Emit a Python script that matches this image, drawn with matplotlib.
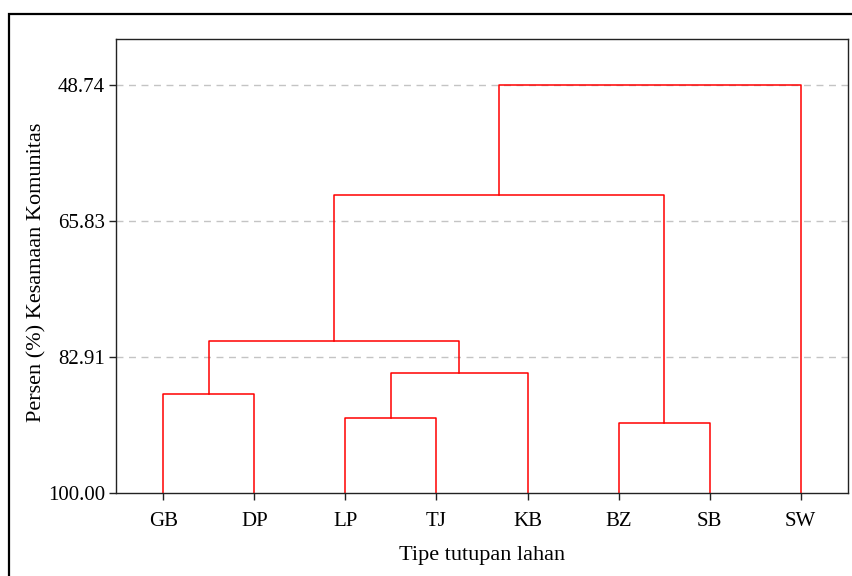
import matplotlib
matplotlib.use("Agg")
import matplotlib.pyplot as plt
from matplotlib.patches import Rectangle

# leaf order along the x axis
labels = ["GB", "DP", "LP", "TJ", "KB", "BZ", "SB", "SW"]

# merges: (left cluster, right cluster, similarity %)
# leaves are referred to by name, new clusters by "c<index>"
merges = [
    ("GB", "DP", 87.60),
    ("LP", "TJ", 90.61),
    ("c1", "KB", 84.96),
    ("c0", "c2", 80.94),
    ("BZ", "SB", 91.17),
    ("c3", "c4", 62.56),
    ("c5", "SW", 48.74),
]

ytick_vals = [100.00, 82.91, 65.83, 48.74]

plt.rcParams["font.family"] = ["Liberation Serif", "DejaVu Serif"]

fig = plt.figure(figsize=(8.52, 5.76), dpi=100)
ax = fig.add_axes([0.1362, 0.1441, 0.8591, 0.7882])

# grid behind the tree
for v in ytick_vals[1:]:
    ax.axhline(v, color="#c4c4c4", lw=1.0, ls=(0, (5, 4)), zorder=0)

# node positions: x = leaf index / midpoint, y = similarity
pos = {name: (i, 100.0) for i, name in enumerate(labels)}
for k, (a, b, h) in enumerate(merges):
    xa, ya = pos[a]
    xb, yb = pos[b]
    ax.plot([xa, xa, xb, xb], [ya, h, h, yb], color="#ff0000", lw=1.1, zorder=2)
    pos["c%d" % k] = ((xa + xb) / 2.0, h)

ax.set_xlim(-0.52, 7.52)
ax.set_ylim(100, 42.96)
ax.set_xticks(range(len(labels)))
ax.set_xticklabels(labels)
ax.set_yticks(ytick_vals)
ax.set_yticklabels(["%.2f" % v for v in ytick_vals])
ax.tick_params(labelsize=15, length=5, width=1, color="#222222")
ax.tick_params(axis="x", pad=9)
ax.tick_params(axis="y", pad=3)

for s in ax.spines.values():
    s.set_linewidth(1.0)
    s.set_color("#222222")

ax.set_xlabel("Tipe tutupan lahan", fontsize=16)
ax.set_ylabel("Persen (%) Kesamaan Komunitas", fontsize=16)
ax.xaxis.set_label_coords(0.5, -0.116)
ax.yaxis.set_label_coords(-0.095, 0.487)

# outer frame, cut off at right and bottom like the original
fig.patches.append(Rectangle((8.5 / 852, -0.1), 1.2, 1.1 - 13.5 / 576,
                             transform=fig.transFigure, fill=False,
                             edgecolor="black", lw=1.6))

fig.savefig("out.png", dpi=100)
